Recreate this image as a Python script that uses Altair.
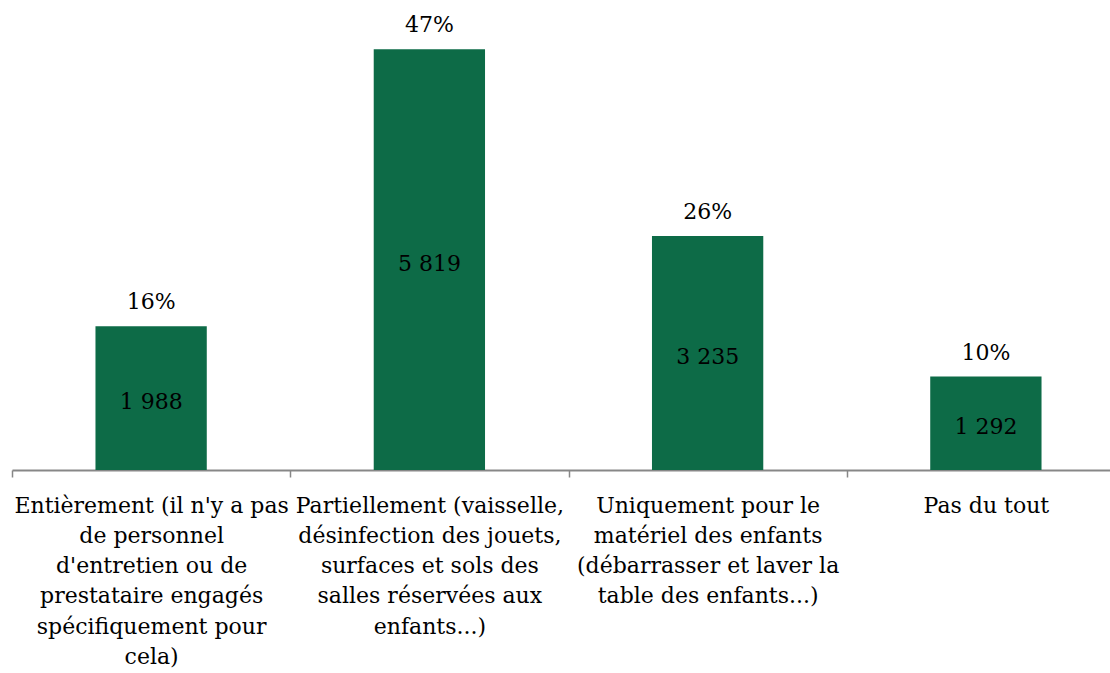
import altair as alt
import pandas as pd

# Responses: how cleaning of the premises is handled
categories = [
    "Entièrement (il n'y a pas|de personnel|d'entretien ou de|prestataire engagés|spécifiquement pour|cela)",
    "Partiellement (vaisselle,|désinfection des jouets,|surfaces et sols des|salles réservées aux|enfants...)",
    "Uniquement pour le|matériel des enfants|(débarrasser et laver la|table des enfants...)",
    "Pas du tout",
]
counts = [1988, 5819, 3235, 1292]

df = pd.DataFrame({"categorie": categories, "n": counts})

FONT = "DejaVu Serif"
GREEN = "#0d6b47"
SIZE = 22
YSCALE = alt.Scale(domain=[0, 6500], nice=False)

base = alt.Chart(df).transform_joinaggregate(
    total="sum(n)"
).transform_calculate(
    pct="datum.n / datum.total",
    mid="datum.n / 2",
    n_label="replace(format(datum.n, ','), regexp(',', 'g'), ' ')",
).encode(
    x=alt.X(
        "categorie:N",
        sort=None,
        title=None,
        scale=alt.Scale(paddingInner=0, paddingOuter=0, range=[0, 1113]),
        axis=alt.Axis(
            labelExpr="split(datum.label, '|')",
            labelAngle=0,
            labelLimit=0,
            labelFont=FONT,
            labelFontSize=SIZE,
            labelColor="#000000",
            labelLineHeight=30.3,
            labelPadding=18,
            labelBaseline="top",
            tickBand="extent",
            tickColor="#878787",
            tickSize=7,
            tickWidth=1.5,
            domainColor="#878787",
            domainWidth=2,
            grid=False,
        ),
    ),
    y=alt.Y("n:Q", scale=YSCALE, axis=None),
)

bars = base.mark_bar(color=GREEN, width=alt.RelativeBandSize(0.4))

pct_text = base.mark_text(
    font=FONT, fontSize=SIZE, color="#000000", baseline="alphabetic", dy=-17
).encode(text=alt.Text("pct:Q", format=".0%"))

count_text = base.mark_text(
    font=FONT, fontSize=SIZE, color="#000000", baseline="middle", dy=4
).encode(
    y=alt.Y("mid:Q", scale=YSCALE, axis=None),
    text="n_label:N",
)

chart = (
    alt.layer(bars, pct_text, count_text)
    .properties(
        width=1098,
        height=470,
        background="#ffffff",
        autosize=alt.AutoSizeParams(type="none"),
        padding={"left": 12, "top": 0, "right": 0, "bottom": 203},
    )
    .configure_view(stroke="transparent", strokeWidth=0)
)

chart.save("out.html", embed_options={"renderer": "svg", "actions": False})
